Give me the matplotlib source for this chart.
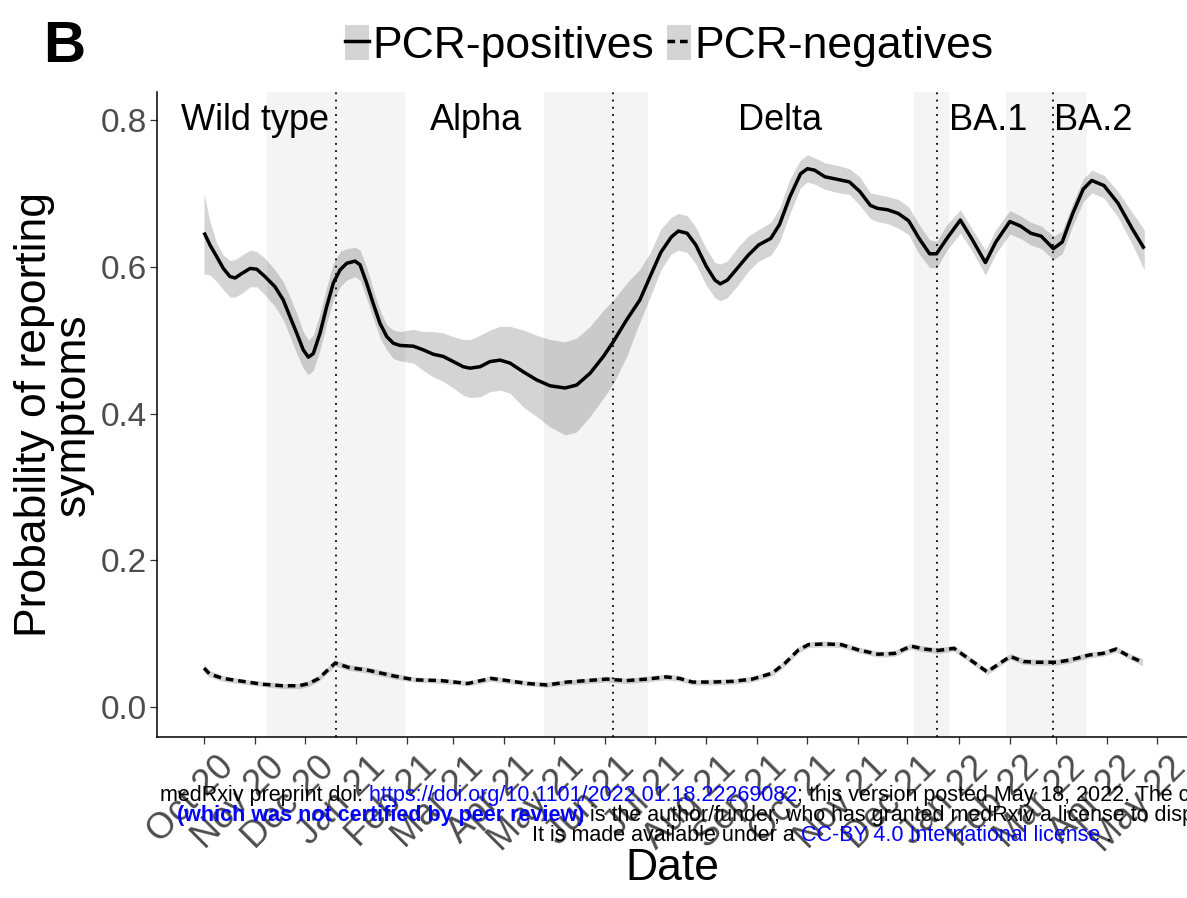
import numpy as np
import pandas as pd
import matplotlib
matplotlib.use('Agg')
import matplotlib.pyplot as plt
from matplotlib.patches import Patch
from matplotlib.lines import Line2D
from matplotlib.legend_handler import HandlerTuple
from matplotlib.transforms import ScaledTranslation

plt.rcParams['font.family'] = ['Liberation Sans', 'DejaVu Sans']

start = pd.Timestamp('2020-10-01')

# PCR-positives: days since 1 Oct 2020, fitted probability and ribbon
pos_day = [0, 3.6, 7.7, 11.7, 15.7, 18.8, 22.8, 27.9, 31.9, 36.9, 43, 48, 52.1,
           56.1, 60.1, 63.2, 66.2, 70.3, 74.3, 78.3, 82.4, 86.4, 91.5, 94.5,
           98.5, 102.5, 106.6, 110.7, 114.7, 118.7, 126.8, 132.8, 138.9, 144.9,
           151, 157, 161.1, 167.2, 173.2, 179.3, 185.3, 193.4, 201.5, 209.6,
           218.7, 225.7, 233.8, 241.9, 247.9, 256, 264, 270.4, 276.7, 283.1,
           287.3, 292.6, 297.9, 304.2, 309.5, 312.7, 316.9, 323.3, 329.6,
           335.9, 343.3, 348.6, 354.9, 361.3, 365.5, 369.8, 376.1, 384.6,
           390.9, 397.2, 403.6, 407.8, 414.1, 420.5, 426.8, 433.1, 439.5,
           443.7, 450, 458.1, 464.9, 473.3, 479.6, 488.1, 494.4, 500.8, 507.1,
           514.5, 519.8, 526.2, 532.5, 537.7, 545.1, 553.6, 562, 569.5]
pos_mid = [0.647, 0.630, 0.614, 0.598, 0.587, 0.585, 0.591, 0.598, 0.597,
           0.587, 0.573, 0.555, 0.532, 0.510, 0.487, 0.477, 0.482, 0.510,
           0.546, 0.578, 0.596, 0.605, 0.608, 0.603, 0.578, 0.550, 0.523,
           0.505, 0.496, 0.493, 0.492, 0.487, 0.481, 0.478, 0.471, 0.464,
           0.462, 0.464, 0.471, 0.473, 0.469, 0.457, 0.446, 0.438, 0.435,
           0.439, 0.455, 0.478, 0.498, 0.528, 0.555, 0.588, 0.620, 0.641,
           0.649, 0.646, 0.630, 0.601, 0.582, 0.577, 0.582, 0.599, 0.616,
           0.630, 0.639, 0.658, 0.696, 0.727, 0.734, 0.732, 0.723, 0.719,
           0.716, 0.703, 0.684, 0.680, 0.678, 0.673, 0.663, 0.639, 0.618,
           0.618, 0.639, 0.664, 0.639, 0.606, 0.634, 0.662, 0.656, 0.646,
           0.642, 0.625, 0.634, 0.673, 0.706, 0.718, 0.711, 0.687, 0.653,
           0.625]
pos_lo = [0.591, 0.589, 0.580, 0.569, 0.559, 0.559, 0.564, 0.573, 0.573,
          0.562, 0.546, 0.528, 0.505, 0.482, 0.462, 0.453, 0.459, 0.487,
          0.523, 0.555, 0.573, 0.582, 0.587, 0.582, 0.557, 0.530, 0.503,
          0.487, 0.475, 0.472, 0.469, 0.459, 0.450, 0.444, 0.435, 0.425,
          0.422, 0.423, 0.430, 0.432, 0.428, 0.409, 0.396, 0.382, 0.371,
          0.375, 0.396, 0.421, 0.441, 0.478, 0.525, 0.560, 0.596, 0.618,
          0.623, 0.620, 0.604, 0.575, 0.558, 0.554, 0.558, 0.575, 0.594,
          0.608, 0.616, 0.634, 0.673, 0.708, 0.716, 0.713, 0.706, 0.701,
          0.699, 0.684, 0.666, 0.662, 0.659, 0.653, 0.644, 0.618, 0.599,
          0.599, 0.623, 0.646, 0.623, 0.589, 0.618, 0.645, 0.639, 0.630,
          0.625, 0.610, 0.618, 0.656, 0.689, 0.701, 0.694, 0.668, 0.632,
          0.596]
pos_hi = [0.700, 0.662, 0.632, 0.616, 0.609, 0.610, 0.616, 0.623, 0.621,
          0.612, 0.596, 0.580, 0.559, 0.537, 0.512, 0.500, 0.507, 0.537,
          0.573, 0.605, 0.621, 0.625, 0.627, 0.623, 0.600, 0.569, 0.541,
          0.521, 0.514, 0.512, 0.515, 0.512, 0.512, 0.510, 0.505, 0.501,
          0.501, 0.507, 0.514, 0.519, 0.519, 0.514, 0.507, 0.501, 0.498,
          0.503, 0.519, 0.541, 0.555, 0.578, 0.597, 0.620, 0.652, 0.668,
          0.673, 0.670, 0.654, 0.625, 0.606, 0.604, 0.608, 0.627, 0.642,
          0.651, 0.661, 0.680, 0.720, 0.746, 0.753, 0.749, 0.742, 0.738,
          0.734, 0.723, 0.701, 0.699, 0.696, 0.692, 0.682, 0.658, 0.637,
          0.635, 0.658, 0.678, 0.653, 0.623, 0.651, 0.677, 0.670, 0.661,
          0.656, 0.642, 0.649, 0.687, 0.720, 0.732, 0.725, 0.703, 0.675,
          0.651]

# PCR-negatives
neg_day = [0, 3.4, 11.4, 23.4, 35.4, 47.5, 57.5, 63.5, 69.5, 74.7, 79.5, 87.5,
           99.6, 115.6, 127.6, 143.7, 159.7, 167.7, 173.7, 183.8, 195.8, 207.8,
           219.8, 231.8, 243.9, 255.9, 267.9, 279.9, 287.9, 295.9, 308, 320,
           332, 344, 352, 360.1, 366.1, 376.1, 386.1, 396.1, 408.2, 418.2,
           428.2, 436.2, 444.3, 454.3, 464.3, 474.3, 482.3, 488.3, 496.3,
           504.4, 516.4, 524.4, 536.4, 544.4, 552.5, 560.5, 568.5]
neg_mid = [0.053, 0.045, 0.039, 0.035, 0.031, 0.029, 0.029, 0.032, 0.039,
           0.050, 0.060, 0.054, 0.050, 0.042, 0.037, 0.036, 0.032, 0.036,
           0.039, 0.036, 0.032, 0.030, 0.034, 0.036, 0.038, 0.036, 0.038,
           0.041, 0.039, 0.034, 0.034, 0.035, 0.038, 0.046, 0.060, 0.078,
           0.085, 0.086, 0.085, 0.078, 0.072, 0.073, 0.083, 0.079, 0.077,
           0.080, 0.064, 0.048, 0.060, 0.069, 0.062, 0.061, 0.061, 0.064,
           0.071, 0.073, 0.079, 0.069, 0.061]
neg_lo = [0.047, 0.041, 0.035, 0.031, 0.028, 0.025, 0.025, 0.028, 0.035,
          0.046, 0.056, 0.050, 0.046, 0.038, 0.034, 0.032, 0.029, 0.032,
          0.035, 0.032, 0.029, 0.027, 0.030, 0.032, 0.034, 0.032, 0.034,
          0.037, 0.035, 0.030, 0.030, 0.031, 0.034, 0.042, 0.056, 0.074,
          0.081, 0.082, 0.081, 0.074, 0.068, 0.069, 0.079, 0.075, 0.073,
          0.076, 0.060, 0.044, 0.056, 0.065, 0.058, 0.057, 0.057, 0.060,
          0.067, 0.069, 0.075, 0.065, 0.056]
neg_hi = [0.059, 0.050, 0.043, 0.038, 0.035, 0.032, 0.032, 0.036, 0.043,
          0.054, 0.064, 0.058, 0.054, 0.046, 0.041, 0.039, 0.036, 0.039,
          0.043, 0.039, 0.036, 0.034, 0.037, 0.039, 0.042, 0.039, 0.042,
          0.045, 0.043, 0.037, 0.038, 0.038, 0.042, 0.050, 0.064, 0.082,
          0.089, 0.090, 0.089, 0.082, 0.076, 0.077, 0.087, 0.083, 0.081,
          0.084, 0.068, 0.052, 0.064, 0.073, 0.066, 0.065, 0.065, 0.068,
          0.075, 0.077, 0.083, 0.073, 0.066]

# variant transition windows and the dates marked by dotted lines
shade_from = ['2020-11-08', '2021-04-25', '2021-12-05', '2022-01-30']
shade_to = ['2021-01-31', '2021-06-27', '2021-12-26', '2022-03-20']
switch_dates = ['2020-12-20', '2021-06-06', '2021-12-19', '2022-02-27']

variants = ['Wild type', 'Alpha', 'Delta', 'BA.1', 'BA.2']
variant_label_day = [31, 165, 349, 475, 538.5]

months = pd.date_range('2020-10-01', '2022-05-01', freq='MS')
month_labels = [m.strftime('%b %y') for m in months]

pos_dates = start + pd.to_timedelta(pos_day, unit='D')
neg_dates = start + pd.to_timedelta(neg_day, unit='D')

W, H = 1187, 898
fig = plt.figure(figsize=(W / 100, H / 100), dpi=100)
ax = fig.add_axes([157.3 / W, 1 - 736.7 / H, (W - 157.3) / W, (736.7 - 92) / H])

for s, e in zip(shade_from, shade_to):
    ax.axvspan(pd.Timestamp(s), pd.Timestamp(e), color='#f4f4f4', lw=0, zorder=0)
for d in switch_dates:
    ax.axvline(pd.Timestamp(d), color='black', ls=(0, (1, 3)), lw=1.3, zorder=1)

ax.fill_between(pos_dates, pos_lo, pos_hi, color='black', alpha=0.17, lw=0, zorder=2)
ax.fill_between(neg_dates, neg_lo, neg_hi, color='black', alpha=0.17, lw=0, zorder=2)
ax.plot(pos_dates, pos_mid, color='black', lw=2.5, solid_joinstyle='round',
        solid_capstyle='butt', zorder=3)
ax.plot(neg_dates, neg_mid, color='black', lw=2.5, ls=(0, (2.2, 1.4)), zorder=3)

for name, d in zip(variants, variant_label_day):
    ax.text(start + pd.Timedelta(days=d), 0.8, name, ha='center', va='center',
            fontsize=26, color='black', zorder=4)

ax.set_xlim(start - pd.Timedelta(days=28.3), start + pd.Timedelta(days=595.4))
ax.set_ylim(-0.0405, 0.8386)
ax.set_yticks([0.0, 0.2, 0.4, 0.6, 0.8])
ax.set_xticks(months, month_labels, rotation=45, ha='right', va='top',
              rotation_mode='anchor')

for side in ['top', 'right']:
    ax.spines[side].set_visible(False)
for side in ['left', 'bottom']:
    ax.spines[side].set_linewidth(1.1)
ax.tick_params(length=5, width=0.9, color='#333333', labelcolor='#4d4d4d',
               labelsize=24, pad=2.2)
ax.tick_params(axis='x', labelsize=26)

# the month labels sit a little right of their ticks
shift = ScaledTranslation(12 / 100, -3 / 100, fig.dpi_scale_trans)
for lab in ax.get_xticklabels():
    lab.set_transform(lab.get_transform() + shift)

ax.set_ylabel('Probability of reporting\nsymptoms', fontsize=32, linespacing=0.95,
              ha='center', va='center')
ax.yaxis.set_label_coords(-0.1003, 0.5)
ax.set_xlabel('Date', fontsize=32, va='baseline')
ax.xaxis.set_label_coords(0.5, -(880 - 736.7) / (736.7 - 92))

fig.text(43 / W, 1 - 62.3 / H, 'B', fontsize=42, fontweight='bold', va='baseline')

h_pos = (Patch(facecolor='#d4d4d4', edgecolor='none'), Line2D([], [], color='black', lw=2.5))
h_neg = (Patch(facecolor='#d4d4d4', edgecolor='none'),
         Line2D([], [], color='black', lw=2.5, ls=(0, (2.2, 1.4))))
fig.legend([h_pos, h_neg], ['PCR-positives', 'PCR-negatives'],
           handler_map={tuple: HandlerTuple(ndivide=1, pad=0)},
           ncol=2, loc='center', bbox_to_anchor=(669 / W, 1 - 46 / H),
           frameon=False, fontsize=32, handlelength=0.54, handleheight=0.85,
           handletextpad=0.07, columnspacing=0.3, borderpad=0, borderaxespad=0)

# medRxiv stamp, pieces laid side by side
renderer = fig.canvas.get_renderer()


def stamp(x, y, parts):
    for text, color, weight in parts:
        t = fig.text(x / W, 1 - y / H, text, color=color, fontweight=weight,
                     fontsize=15.5, va='baseline', ha='left', zorder=10)
        x += t.get_window_extent(renderer=renderer).width


blue = '#0000ff'
stamp(160, 801, [('medRxiv preprint doi:', 'black', 'normal'),
                 (' https://doi.org/10.1101/2022.01.18.22269082', blue, 'normal'),
                 ('; this version posted May 18, 2022. The copyright holder for this preprint',
                  'black', 'normal')])
stamp(177, 821, [('(which was not certified by peer review)', blue, 'bold'),
                 (' is the author/funder, who has granted medRxiv a license to display'
                  ' the preprint in perpetuity.', 'black', 'normal')])
stamp(532, 841, [('It is made available under a', 'black', 'normal'),
                 (' CC-BY 4.0 International license', blue, 'normal'),
                 (' .', 'black', 'normal')])

fig.savefig('out.png', dpi=100)
